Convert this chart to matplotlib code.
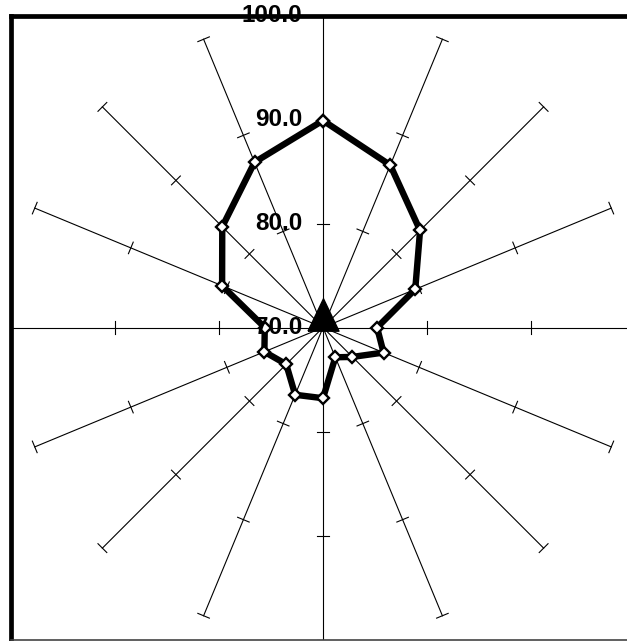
import numpy as np
import matplotlib
matplotlib.use('Agg')
import matplotlib.pyplot as plt

# radar values, clockwise from the top (16 directions)
values = [89.9, 86.9, 83.2, 79.6, 75.2, 76.3, 74.0, 73.1,
          76.8, 77.0, 75.0, 76.1, 75.6, 80.5, 83.7, 87.2]
r_min = 70.0
r_max = 100.0
tick_values = [80.0, 90.0, 100.0]
tick_labels = ['70.0', '80.0', '90.0', '100.0']
label_values = [70.0, 80.0, 90.0, 100.0]

n = len(values)
ang = np.deg2rad(np.arange(n) * 360.0 / n)   # clockwise from north

def to_xy(v, a):
    r = v - r_min
    return r * np.sin(a), r * np.cos(a)

fig = plt.figure(figsize=(6.27, 6.41), dpi=100)
ax = fig.add_axes([11 / 627, 1.5 / 641, 624 / 627, 624 / 641])
span = r_max - r_min
ax.set_xlim(-span, span)
ax.set_ylim(-span, span)
ax.set_xticks([])
ax.set_yticks([])

for s in ['left', 'top']:
    ax.spines[s].set_linewidth(3.4)
    ax.spines[s].set_color('black')
ax.spines['bottom'].set_linewidth(1.2)
ax.spines['bottom'].set_color('#444444')
ax.spines['right'].set_visible(False)

# spokes with perpendicular tick marks
half = 0.6
for a in ang:
    x0, y0 = to_xy(r_min, a)
    x1, y1 = to_xy(r_max, a)
    ax.plot([x0, x1], [y0, y1], color='black', lw=0.8, zorder=1)
    px, py = np.cos(a), -np.sin(a)
    for tv in tick_values:
        tx, ty = to_xy(tv, a)
        ax.plot([tx - half * px, tx + half * px], [ty - half * py, ty + half * py],
                color='black', lw=0.8, zorder=1)

# radial labels along the top spoke
for lv, lt in zip(label_values, tick_labels):
    ax.annotate(lt, xy=(0, lv - r_min), xytext=(-15, 0), textcoords='offset points',
                ha='right', va='center', fontsize=17.5, fontweight='bold',
                fontstretch='normal', family=['Liberation Sans', 'DejaVu Sans'],
                zorder=4, annotation_clip=False)

# data polygon
xs, ys = to_xy(np.array(values + values[:1]), np.concatenate([ang, ang[:1]]))
ax.plot(xs, ys, color='black', lw=4.6, marker='D', ms=6.6,
        mfc='white', mec='black', mew=1.7, zorder=3)

# centre triangle
tri = [(-15.5, -2.7), (15.5, -2.7), (0, 29.7), (-15.5, -2.7)]
ax.plot([0], [0], marker=tri, ms=42.8, color='black', lw=0, zorder=5)

fig.savefig('out.png', dpi=100)
